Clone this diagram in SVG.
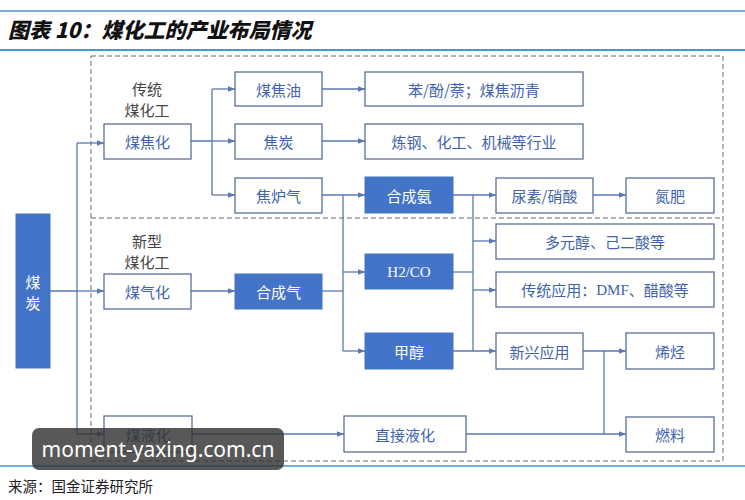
<svg xmlns="http://www.w3.org/2000/svg" width="745" height="500" viewBox="0 0 745 500">
<defs>
<marker id="ah" viewBox="0 0 10 10" refX="10" refY="5" markerWidth="7" markerHeight="7" markerUnits="userSpaceOnUse" orient="auto">
<path d="M0,1 L10,5 L0,9 Z" fill="#5a77b0"/>
</marker>
<style>
.w{fill:#ffffff;stroke:#5b6f98;stroke-width:1.3}
.b{fill:#4374c7;stroke:#4374c7;stroke-width:1}
.tw{font-family:"Noto Sans CJK SC","Liberation Sans",sans-serif;font-size:15px;fill:#3f63aa;text-anchor:middle;dominant-baseline:central}
.tb{font-family:"Noto Sans CJK SC","Liberation Sans",sans-serif;font-size:15px;fill:#ffffff;text-anchor:middle;dominant-baseline:central}
.lab{font-family:"Noto Sans CJK SC","Liberation Sans",sans-serif;font-size:15px;fill:#444;text-anchor:middle}
.c{fill:none;stroke:#5a77b0;stroke-width:1.3}
.ca{fill:none;stroke:#5a77b0;stroke-width:1.3;marker-end:url(#ah)}
.d{fill:none;stroke:#666;stroke-width:1;stroke-dasharray:5,3}
</style>
</defs>
<rect width="745" height="500" fill="#ffffff"/>
<line x1="0" y1="11" x2="745" y2="11" stroke="#4a98c4" stroke-width="1.5"/>
<text x="8" y="38" font-family="'Noto Sans CJK SC','Liberation Sans',sans-serif" font-size="21" font-weight="900" font-style="italic" fill="#111">图表 10：煤化工的产业布局情况</text>
<line x1="0" y1="50" x2="745" y2="50" stroke="#4a98c4" stroke-width="2"/>
<rect x="91" y="56" width="632" height="405" class="d"/>
<line x1="91" y1="218" x2="723" y2="218" class="d" stroke-width="1.3"/>
<line x1="0" y1="466" x2="745" y2="466" stroke="#4a98c4" stroke-width="1.5"/>
<text x="8" y="492" font-family="'Noto Sans CJK SC','Liberation Sans',sans-serif" font-size="14.5" fill="#222">来源：国金证券研究所</text>

<text class="lab" x="147" y="95">传统</text>
<text class="lab" x="147" y="116">煤化工</text>
<text class="lab" x="147" y="247">新型</text>
<text class="lab" x="147" y="268">煤化工</text>

<g id="connectors">
<path class="c" d="M50,291 H77 M77,143 V434"/>
<path class="ca" d="M77,143 H104"/>
<path class="ca" d="M77,291 H104"/>
<path class="ca" d="M77,434 H104"/>
<path class="c" d="M191,141 H212 M212,89 V195"/>
<path class="ca" d="M212,89 H235"/>
<path class="ca" d="M212,141 H235"/>
<path class="ca" d="M212,195 H235"/>
<path class="ca" d="M322,89 H365"/>
<path class="ca" d="M322,141 H365"/>
<path class="ca" d="M322,195 H365"/>
<path class="c" d="M343,195 V351"/>
<path class="ca" d="M343,272 H365"/>
<path class="ca" d="M343,351 H365"/>
<path class="ca" d="M191,291 H235"/>
<path class="c" d="M322,291 H343"/>
<path class="ca" d="M453,195 H496"/>
<path class="c" d="M473,195 V351"/>
<path class="ca" d="M473,241 H496"/>
<path class="ca" d="M473,290 H496"/>
<path class="c" d="M453,272 H473"/>
<path class="ca" d="M453,351 H496"/>
<path class="ca" d="M593,195 H626"/>
<path class="ca" d="M583,351 H626"/>
<path class="c" d="M604,351 V434"/>
<path class="ca" d="M192,434 H344"/>
<path class="ca" d="M466,434 H626"/>
</g>

<g id="coal"><rect class="b" x="16" y="214" width="34" height="154"/><text class="tb" x="33" y="281">煤</text><text class="tb" x="33" y="302">炭</text></g>
<g id="coking"><rect class="w" x="104" y="124" width="87" height="35"/><text class="tw" x="147.5" y="141.5">煤焦化</text></g>
<g id="tar"><rect class="w" x="235" y="72" width="87" height="34"/><text class="tw" x="278.5" y="89">煤焦油</text></g>
<g id="coke"><rect class="w" x="235" y="124" width="87" height="35"/><text class="tw" x="278.5" y="141.5">焦炭</text></g>
<g id="cog"><rect class="w" x="235" y="178" width="87" height="35"/><text class="tw" x="278.5" y="195.5">焦炉气</text></g>
<g id="benzene"><rect class="w" x="365" y="72" width="218" height="34"/><text class="tw" x="474" y="89">苯/酚/萘；煤焦沥青</text></g>
<g id="steel"><rect class="w" x="365" y="124" width="218" height="35"/><text class="tw" x="474" y="141.5">炼钢、化工、机械等行业</text></g>
<g id="ammonia"><rect class="b" x="365" y="177" width="88" height="36"/><text class="tb" x="409" y="195">合成氨</text></g>
<g id="urea"><rect class="w" x="496" y="178" width="97" height="35"/><text class="tw" x="544.5" y="195.5">尿素/硝酸</text></g>
<g id="nfert"><rect class="w" x="626" y="178" width="88" height="35"/><text class="tw" x="670" y="195.5">氮肥</text></g>
<g id="gasif"><rect class="w" x="104" y="274" width="87" height="35"/><text class="tw" x="147.5" y="291.5">煤气化</text></g>
<g id="syngas"><rect class="b" x="235" y="274" width="87" height="35"/><text class="tb" x="278.5" y="291.5">合成气</text></g>
<g id="h2co"><rect class="b" x="365" y="254" width="88" height="35"/><text class="tb" x="409" y="271.5" style="font-family:'Liberation Serif',serif">H2/CO</text></g>
<g id="methanol"><rect class="b" x="365" y="333" width="88" height="36"/><text class="tb" x="409" y="351">甲醇</text></g>
<g id="polyol"><rect class="w" x="496" y="224" width="218" height="35"/><text class="tw" x="605" y="241.5">多元醇、己二酸等</text></g>
<g id="tradapp"><rect class="w" x="496" y="272" width="218" height="35"/><text class="tw" x="605" y="289.5">传统应用：<tspan style="font-family:'Liberation Serif',serif">DMF</tspan>、醋酸等</text></g>
<g id="newapp"><rect class="w" x="496" y="333" width="87" height="36"/><text class="tw" x="539.5" y="351">新兴应用</text></g>
<g id="olefin"><rect class="w" x="626" y="333" width="88" height="36"/><text class="tw" x="670" y="351">烯烃</text></g>
<g id="liquef"><rect class="w" x="104" y="416" width="88" height="36"/><text class="tw" x="148" y="434">煤液化</text></g>
<g id="direct"><rect class="w" x="344" y="416" width="122" height="36"/><text class="tw" x="405" y="434">直接液化</text></g>
<g id="fuel"><rect class="w" x="626" y="417" width="88" height="35"/><text class="tw" x="670" y="434.5">燃料</text></g>

<rect x="32" y="428" width="252" height="42" rx="7" fill="#333" fill-opacity="0.82"/>
<text x="158" y="457" font-family="'Noto Sans','Open Sans',sans-serif" font-size="21" fill="#ffffff" text-anchor="middle">moment-yaxing.com.cn</text>
</svg>
